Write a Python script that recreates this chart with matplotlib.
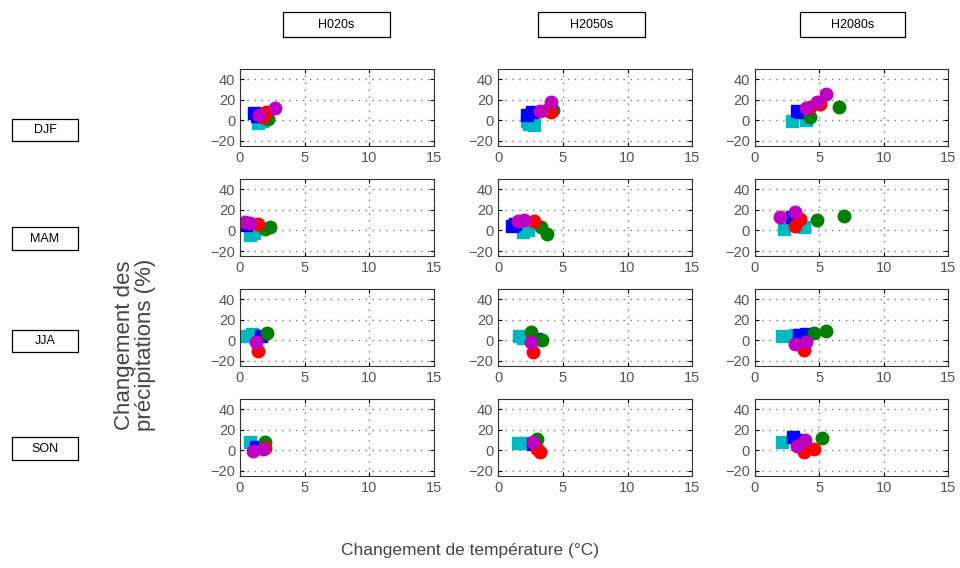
import numpy as np
import matplotlib.pyplot as plt
from matplotlib.patches import Rectangle

plt.rcParams['font.family'] = ['Liberation Sans', 'DejaVu Sans']

seasons = ['DJF', 'MAM', 'JJA', 'SON']
horizons = ['H020s', 'H2050s', 'H2080s']

# points per colour : [season][horizon] -> list of (dT, dP)
blue = [
    [[(1.1, 7), (1.3, 4)], [(2.2, 5), (2.6, 8)], [(3.3, 9), (3.6, 8)]],
    [[(0.5, 5)], [(1.1, 4), (1.3, 6)], [(2.9, 13)]],
    [[(1.6, 4)], [(2.9, 1)], [(4.0, 6), (3.4, 5)]],
    [[(1.2, 3)], [(2.7, 6)], [(3.0, 13), (3.3, 10)]],
]
cyan = [
    [[(1.4, -3), (1.7, -1)], [(2.4, -4), (2.8, -5), (2.2, -1)], [(2.9, -1), (4.0, 0)]],
    [[(0.8, -4), (1.1, -2)], [(1.9, -1), (2.3, 0)], [(2.3, 1), (3.8, 3)]],
    [[(0.5, 4), (0.9, 6)], [(1.6, 4), (1.9, 2)], [(2.1, 4), (3.1, 5)]],
    [[(0.8, 8)], [(1.5, 7), (2.0, 7)], [(2.1, 8)]],
]
magenta = [
    [[(1.5, 5), (2.7, 12)], [(3.2, 9), (4.1, 18)], [(5.5, 26), (4.8, 18), (4.0, 12)]],
    [[(0.4, 8), (0.8, 7)], [(1.5, 9), (2.0, 10)], [(2.0, 13), (3.1, 18)]],
    [[(1.2, -2)], [(2.5, -2)], [(3.1, -4), (4.0, -2)]],
    [[(1.0, -1), (1.8, 1)], [(2.7, 8)], [(3.9, 10), (3.3, 4)]],
]
red = [
    [[(2.0, 8), (1.8, 3)], [(4.1, 8), (3.8, 10)], [(4.3, 13), (5.1, 16)]],
    [[(1.4, 6)], [(2.8, 9)], [(3.5, 11), (3.1, 4)]],
    [[(1.4, -11)], [(2.7, -12)], [(3.8, -10)]],
    [[(1.9, 2)], [(3.0, 1), (3.2, -2)], [(3.8, -2), (4.6, 1)]],
]
green = [
    [[(2.2, 1)], [(4.2, 10)], [(4.3, 3), (6.5, 13)]],
    [[(2.3, 3), (1.9, 1)], [(3.8, -3), (3.3, 3)], [(4.8, 10), (6.9, 14)]],
    [[(2.1, 7)], [(2.5, 8), (3.4, 0)], [(5.5, 9), (4.6, 7)]],
    [[(1.9, 8)], [(3.0, 11)], [(5.2, 12)]],
]

series = [
    (cyan, 's', '#00b8c0'),
    (blue, 's', '#0000ff'),
    (green, 'o', '#007f00'),
    (red, 'o', '#ff0000'),
    (magenta, 'o', '#c000c0'),
]

fig = plt.figure(figsize=(9.6, 5.68), dpi=100)

lefts = [0.25, 0.519, 0.786]
bottoms = [0.743, 0.549, 0.356, 0.162]
w, h = 0.202, 0.1356

for i in range(4):
    for j in range(3):
        ax = fig.add_axes([lefts[j], bottoms[i], w, h])
        for data, mk, col in series:
            pts = np.array(data[i][j])
            ax.plot(pts[:, 0], pts[:, 1], linestyle='none', marker=mk,
                    color=col, markersize=9, markeredgecolor=col)
        ax.set_xlim(0, 15)
        ax.set_ylim(-25, 50)
        ax.set_xticks([0, 5, 10, 15])
        ax.set_yticks([-20, 0, 20, 40])
        ax.grid(True, linestyle=(0, (1, 4)), color='#777777', linewidth=1.0)
        ax.tick_params(direction='in', labelsize=10.5, labelcolor='#555555',
                       length=3, top=True, right=True)
        for s in ax.spines.values():
            s.set_linewidth(0.8)
            s.set_color('#333333')

# boxes for horizons (top) and seasons (left)
def box_label(x0, y0, x1, y1, txt):
    fig.patches.append(Rectangle((x0 / 960, 1 - y1 / 568), (x1 - x0) / 960,
                                 (y1 - y0) / 568, transform=fig.transFigure,
                                 facecolor='white', edgecolor='black', lw=0.9))
    fig.text((x0 + x1) / 2 / 960, 1 - (y0 + y1) / 2 / 568, txt,
             ha='center', va='center', fontsize=9)

box_label(283, 12, 390, 37, horizons[0])
box_label(538, 12, 645, 37, horizons[1])
box_label(800, 12, 905, 37, horizons[2])
box_label(12, 119, 78, 141, seasons[0])
box_label(12, 227, 78, 250, seasons[1])
box_label(12, 330, 78, 352, seasons[2])
box_label(12, 437, 78, 460, seasons[3])

fig.text(135 / 960, 1 - 345 / 568, 'Changement des\nprécipitations (%)',
         rotation=90, ha='center', va='center', fontsize=16, color='#444444',
         linespacing=1.05)
fig.text(470 / 960, 1 - 550 / 568, 'Changement de température (°C)',
         ha='center', va='center', fontsize=12.5, color='#444444')

fig.savefig('out.png', dpi=100)
